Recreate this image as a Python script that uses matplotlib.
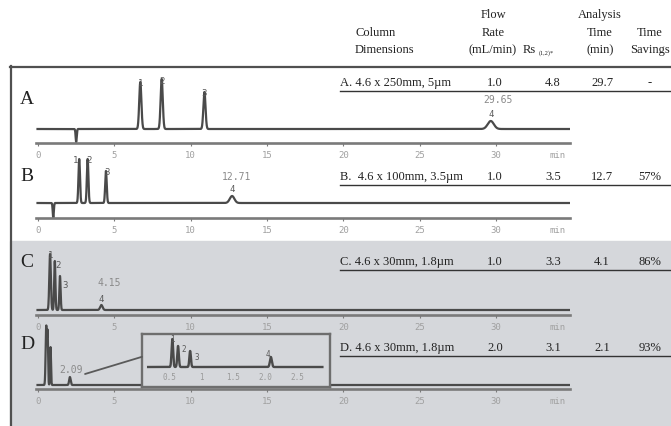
import numpy as np
import matplotlib
matplotlib.use("Agg")
import matplotlib.pyplot as plt
from matplotlib.patches import Rectangle, ConnectionPatch

W, H = 671, 427

# ---- table data ----
row_ids = ["A", "B", "C", "D"]
dimensions = ["A. 4.6 x 250mm, 5\u00b5m", "B.  4.6 x 100mm, 3.5\u00b5m",
              "C. 4.6 x 30mm, 1.8\u00b5m", "D. 4.6 x 30mm, 1.8\u00b5m"]
flow_rate = ["1.0", "1.0", "1.0", "2.0"]
rs_12 = ["4.8", "3.5", "3.3", "3.1"]
analysis_time = ["29.7", "12.7", "4.1", "2.1"]
time_savings = ["-", "57%", "86%", "93%"]

# ---- chromatogram peaks (time in min, height, width) ----
a_times = [6.7, 8.1, 10.9, 29.65]
a_heights = [47, 50, 37, 8]
a_sigma = [0.07, 0.07, 0.07, 0.2]
a_dip = (2.5, -13)

b_times = [2.7, 3.25, 4.45, 12.71]
b_heights = [44, 44, 32, 7]
b_sigma = [0.05, 0.05, 0.05, 0.15]
b_dip = (1.0, -15)

c_times = [0.79, 1.1, 1.44, 4.15]
c_heights = [56, 49, 34, 5]
c_sigma = [0.05, 0.04, 0.04, 0.08]

d_times = [0.54, 0.63, 0.82, 2.09]
d_heights = [59, 50, 38, 8]
d_sigma = [0.04, 0.03, 0.03, 0.05]
d_inset_heights = [28, 21, 16, 10]
d_inset_sigma = [0.012, 0.012, 0.012, 0.015]

main_ticks = [0, 5, 10, 15, 20, 25, 30]
inset_ticks = [0.5, 1, 1.5, 2.0, 2.5]
inset_tick_labels = ["0.5", "1", "1.5", "2.0", "2.5"]

GRAY_BG = "#d5d7db"
TRACE = "#4a4a4a"
AXIS = "#7a7a7a"
SERIF = "Liberation Serif"
MONO = "DejaVu Sans Mono"

fig = plt.figure(figsize=(W / 100, H / 100), dpi=100)

bg = fig.add_axes([0, 0, 1, 1])
bg.set_xlim(0, W)
bg.set_ylim(H, 0)
bg.axis("off")
bg.add_patch(Rectangle((10, 242), W - 10, H - 242, color=GRAY_BG, zorder=0))
bg.plot([10, W], [67.5, 67.5], color="#505050", lw=1.6)
bg.plot([10.5, 10.5], [67, H], color="#505050", lw=1.6)

# header
hdr = dict(fontfamily=SERIF, fontsize=9, va="center", color="#222222")
bg.text(355, 33, "Column", ha="left", **hdr)
bg.text(355, 50, "Dimensions", ha="left", **hdr)
bg.text(493, 15, "Flow", ha="center", **hdr)
bg.text(493, 33, "Rate", ha="center", **hdr)
bg.text(493, 50, "(mL/min)", ha="center", **hdr)
bg.text(523, 50, "Rs", ha="left", **hdr)
bg.text(539, 53, "(1,2)*", ha="left", fontfamily=SERIF, fontsize=4.5,
        va="center", color="#222222")
bg.text(600, 15, "Analysis", ha="center", **hdr)
bg.text(600, 33, "Time", ha="center", **hdr)
bg.text(600, 50, "(min)", ha="center", **hdr)
bg.text(650, 33, "Time", ha="center", **hdr)
bg.text(650, 50, "Savings", ha="center", **hdr)

# table rows
row_y = [83, 177, 262, 348]
for i in range(len(row_ids)):
    y = row_y[i]
    bg.text(340, y, dimensions[i], ha="left", **hdr)
    bg.text(495, y, flow_rate[i], ha="center", **hdr)
    bg.text(553, y, rs_12[i], ha="center", **hdr)
    bg.text(602, y, analysis_time[i], ha="center", **hdr)
    bg.text(650, y, time_savings[i], ha="center", **hdr)
    bg.plot([340, W], [y + 8.5, y + 8.5], color="#333333", lw=1.0)

# panel letters
letter_y = [100, 177, 263, 345]
for lab, y in zip(row_ids, letter_y):
    bg.text(27, y, lab, fontfamily=SERIF, fontsize=14, ha="center",
            va="center", color="#222222")


def px_axes(x0, y0, x1, y1):
    return fig.add_axes([x0 / W, 1 - y1 / H, (x1 - x0) / W, (y1 - y0) / H])


def trace(t, times, heights, sigmas):
    y = np.zeros_like(t)
    for tr, h, s in zip(times, heights, sigmas):
        y += h * np.exp(-0.5 * ((t - tr) / s) ** 2)
    return y


XMIN, XMAX = (36 - 38) / 15.27, (570 - 38) / 15.27


def panel(top, axis_y, base_y, times, heights, sigmas, dip=None):
    ax = px_axes(36, top, 570, axis_y)
    ax.patch.set_alpha(0)
    ax.set_xlim(XMIN, XMAX)
    ax.set_ylim(-(axis_y - base_y), base_y - top)
    for s in ["top", "right", "left"]:
        ax.spines[s].set_visible(False)
    ax.spines["bottom"].set_color(AXIS)
    ax.spines["bottom"].set_linewidth(1.9)
    ax.set_yticks([])
    ax.set_xticks(main_ticks)
    ax.set_xticklabels([str(v) for v in main_ticks])
    ax.tick_params(axis="x", length=2, width=0.8, color=AXIS, pad=3,
                   labelsize=6.5, labelcolor="#a0a0a0")
    for lbl in ax.get_xticklabels():
        lbl.set_fontfamily(MONO)
    ax.text(34, -(axis_y - base_y) - 12, "min", fontfamily=MONO, fontsize=6.5,
            color="#a0a0a0", ha="center", va="center", clip_on=False)
    t = np.linspace(XMIN + 0.1, XMAX - 0.05, 6000)
    y = trace(t, times, heights, sigmas)
    if dip is not None:
        y += dip[1] * np.exp(-0.5 * ((t - dip[0]) / 0.035) ** 2)
    ax.plot(t, y, color=TRACE, lw=1.6)
    return ax


lab_kw = dict(fontfamily=MONO, fontsize=6.5, color="#5a5a5a", ha="center",
              va="center")
rt_kw = dict(fontfamily=MONO, fontsize=7, color="#8a8a8a", ha="center",
             va="center")

# A
axA = panel(68, 144, 130, a_times, a_heights, a_sigma, a_dip)
for i in range(3):
    axA.text(a_times[i], a_heights[i] - 1, str(i + 1), **lab_kw)
axA.text(a_times[3], a_heights[3] + 7, "4", **lab_kw)
axA.text(a_times[3] + 0.5, a_heights[3] + 22, f"{a_times[3]:.2f}", **rt_kw)

# B
axB = panel(150, 219, 204, b_times, b_heights, b_sigma, b_dip)
b_dx = [-0.25, 0.1, 0.05]
for i in range(3):
    axB.text(b_times[i] + b_dx[i], b_heights[i] - 1, str(i + 1), **lab_kw)
axB.text(b_times[3], b_heights[3] + 7, "4", **lab_kw)
axB.text(b_times[3] + 0.3, b_heights[3] + 20, f"{b_times[3]:.2f}", **rt_kw)

# C
axC = panel(245, 316, 311, c_times, c_heights, c_sigma)
c_off = [(0, -1), (0.2, -4), (0.35, -8)]
for i in range(3):
    axC.text(c_times[i] + c_off[i][0], c_heights[i] + c_off[i][1],
             str(i + 1), **lab_kw)
axC.text(c_times[3], c_heights[3] + 7, "4", **lab_kw)
axC.text(c_times[3] + 0.5, c_heights[3] + 23, f"{c_times[3]:.2f}", **rt_kw)

# D
axD = panel(320, 390, 386, d_times, d_heights, d_sigma)
axD.text(d_times[3] + 0.1, d_heights[3] + 8, f"{d_times[3]:.2f}", **rt_kw)

# D inset
axI = px_axes(142, 335, 330, 388)
axI.set_facecolor(GRAY_BG)
axI.set_xlim(0.063, 3.02)
axI.set_ylim(-20, 33)
axI.set_xticks([])
axI.set_yticks([])
for s in axI.spines.values():
    s.set_color("#6e6e6e")
    s.set_linewidth(1.7)
ti = np.linspace(0.16, 2.9, 4000)
axI.plot(ti, trace(ti, d_times, d_inset_heights, d_inset_sigma),
         color=TRACE, lw=1.7)
ins_off = [(0, 0), (0.09, -3), (0.1, -6)]
for i in range(3):
    axI.text(d_times[i] + ins_off[i][0], d_inset_heights[i] + ins_off[i][1],
             str(i + 1), fontfamily=MONO, fontsize=5.5, color="#5a5a5a",
             ha="center", va="center")
axI.text(d_times[3] - 0.04, d_inset_heights[3] + 3, "4", fontfamily=MONO,
         fontsize=5.5, color="#5a5a5a", ha="center", va="center")
for tv, tl in zip(inset_ticks, inset_tick_labels):
    axI.text(tv, -10, tl, fontfamily=MONO, fontsize=5.5, color="#9a9a9a",
             ha="center", va="center")

con = ConnectionPatch(xyA=(3.08, 11), coordsA=axD.transData,
                      xyB=(0, 0.57), coordsB=axI.transAxes,
                      color="#5a5a5a", lw=1.3)
fig.add_artist(con)

fig.savefig("out.png", dpi=100)
